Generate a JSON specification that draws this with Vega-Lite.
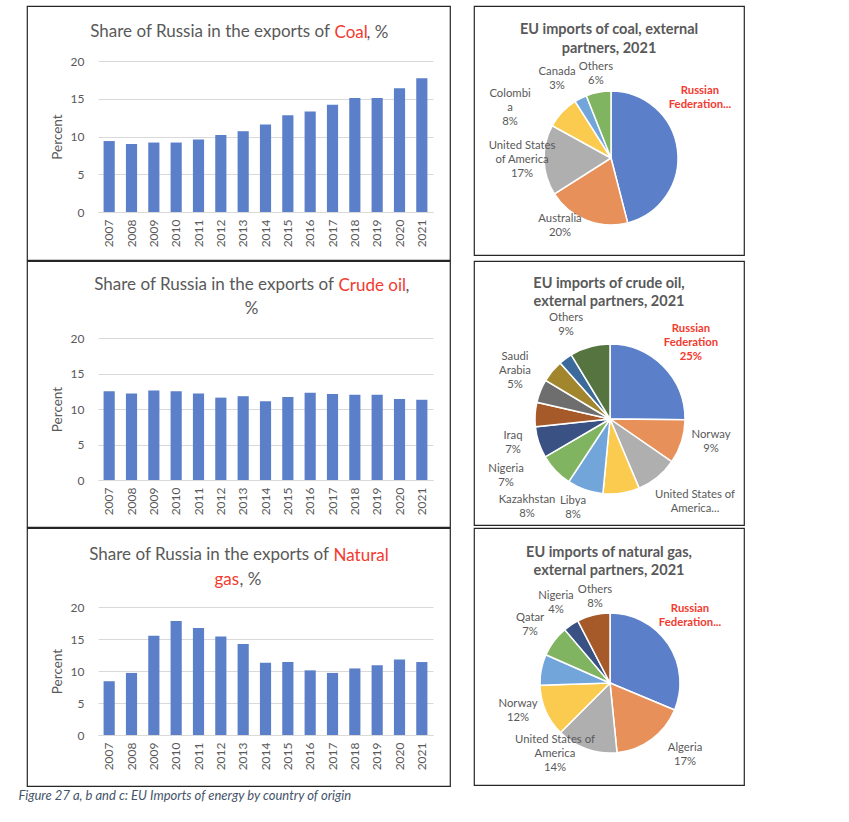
{
  "$schema": "https://vega.github.io/schema/vega-lite/v6.json",
  "background": "white",
  "padding": {"left": 18, "top": 5, "right": 5, "bottom": 5},
  "title": {"text": "Figure 27 a, b and c: EU Imports of energy by country of origin", "orient": "bottom", "anchor": "start", "frame": "bounds", "font": "Lato", "fontSize": 13, "fontStyle": "italic", "fontWeight": "normal", "color": "#44546A", "offset": 3, "baseline": "top", "dx": -8},
  "datasets": {
    "coal": [
      {"year": "2007", "share": 9.4}, {"year": "2008", "share": 9.0}, {"year": "2009", "share": 9.2}, {"year": "2010", "share": 9.2}, {"year": "2011", "share": 9.6},
      {"year": "2012", "share": 10.2}, {"year": "2013", "share": 10.7}, {"year": "2014", "share": 11.6}, {"year": "2015", "share": 12.8}, {"year": "2016", "share": 13.3},
      {"year": "2017", "share": 14.2}, {"year": "2018", "share": 15.1}, {"year": "2019", "share": 15.1}, {"year": "2020", "share": 16.4}, {"year": "2021", "share": 17.7}
    ],
    "crude": [
      {"year": "2007", "share": 12.5}, {"year": "2008", "share": 12.2}, {"year": "2009", "share": 12.6}, {"year": "2010", "share": 12.5}, {"year": "2011", "share": 12.2},
      {"year": "2012", "share": 11.6}, {"year": "2013", "share": 11.8}, {"year": "2014", "share": 11.1}, {"year": "2015", "share": 11.7}, {"year": "2016", "share": 12.3},
      {"year": "2017", "share": 12.1}, {"year": "2018", "share": 12.0}, {"year": "2019", "share": 12.0}, {"year": "2020", "share": 11.4}, {"year": "2021", "share": 11.3}
    ],
    "gas": [
      {"year": "2007", "share": 8.4}, {"year": "2008", "share": 9.7}, {"year": "2009", "share": 15.5}, {"year": "2010", "share": 17.8}, {"year": "2011", "share": 16.7},
      {"year": "2012", "share": 15.4}, {"year": "2013", "share": 14.2}, {"year": "2014", "share": 11.3}, {"year": "2015", "share": 11.4}, {"year": "2016", "share": 10.1},
      {"year": "2017", "share": 9.7}, {"year": "2018", "share": 10.4}, {"year": "2019", "share": 10.9}, {"year": "2020", "share": 11.8}, {"year": "2021", "share": 11.4}
    ],
    "coalPie": [
      {"k": 1, "partner": "Russian Federation", "share": 46, "label": "Russian\nFederation..."},
      {"k": 2, "partner": "Australia", "share": 20, "label": "Australia\n20%"},
      {"k": 3, "partner": "United States of America", "share": 17, "label": "United States\nof America\n17%"},
      {"k": 4, "partner": "Colombia", "share": 8, "label": "Colombi\na\n8%"},
      {"k": 5, "partner": "Canada", "share": 3, "label": "Canada\n3%"},
      {"k": 6, "partner": "Others", "share": 6, "label": "Others\n6%"}
    ],
    "crudePie": [
      {"k": 1, "partner": "Russian Federation", "share": 25, "label": "Russian\nFederation\n25%"},
      {"k": 2, "partner": "Norway", "share": 9.4, "label": "Norway\n9%"},
      {"k": 3, "partner": "United States of America", "share": 9.0, "label": "United States of\nAmerica..."},
      {"k": 4, "partner": "Libya", "share": 7.8, "label": "Libya\n8%"},
      {"k": 5, "partner": "Kazakhstan", "share": 7.7, "label": "Kazakhstan\n8%"},
      {"k": 6, "partner": "Nigeria", "share": 7.3, "label": "Nigeria\n7%"},
      {"k": 7, "partner": "Iraq", "share": 6.7, "label": "Iraq\n7%"},
      {"k": 8, "partner": "Saudi Arabia", "share": 5.2, "label": "Saudi\nArabia\n5%"},
      {"k": 9, "partner": "Unlabelled partner 1", "share": 5.0, "label": ""},
      {"k": 10, "partner": "Unlabelled partner 2", "share": 4.8, "label": ""},
      {"k": 11, "partner": "Unlabelled partner 3", "share": 2.9, "label": ""},
      {"k": 12, "partner": "Others", "share": 8.6, "label": "Others\n9%"}
    ],
    "gasPie": [
      {"k": 1, "partner": "Russian Federation", "share": 31.3, "label": "Russian\nFederation..."},
      {"k": 2, "partner": "Algeria", "share": 17.1, "label": "Algeria\n17%"},
      {"k": 3, "partner": "United States of America", "share": 14.1, "label": "United States of\nAmerica\n14%"},
      {"k": 4, "partner": "Norway", "share": 12.0, "label": "Norway\n12%"},
      {"k": 5, "partner": "Unlabelled partner", "share": 7.1, "label": ""},
      {"k": 6, "partner": "Qatar", "share": 7.2, "label": "Qatar\n7%"},
      {"k": 7, "partner": "Nigeria", "share": 3.6, "label": "Nigeria\n4%"},
      {"k": 8, "partner": "Others", "share": 7.6, "label": "Others\n8%"}
    ]
  },
  "spacing": -3,
  "vconcat": [
    {
      "spacing": 22,
      "hconcat": [
        {
          "width": 423, "height": 254,
          "data": {"name": "coal"},
          "title": {"text": "Share of Russia in the exports of", "frame": "group", "anchor": "middle", "align": "right", "dx": 91.5, "offset": -48, "baseline": "alphabetic", "fontSize": 17, "fontWeight": "normal", "color": "#595959"},
          "layer": [
            {
              "mark": {"type": "bar", "color": "#5B7FC8"},
              "encoding": {
                "x": {"field": "year", "type": "ordinal", "scale": {"range": [71, 406], "paddingInner": 0.5, "paddingOuter": 0.25},
                  "axis": {"orient": "bottom", "offset": -48, "title": null, "labelAngle": -90, "labelPadding": 7, "ticks": false, "tickSize": 0, "domainColor": "#D9D9D9", "grid": false, "labelFontSize": 12}},
                "y": {"field": "share", "type": "quantitative", "scale": {"domain": [0, 20], "range": [206, 55]},
                  "axis": {"orient": "left", "offset": -65, "values": [0, 5, 10, 15, 20], "ticks": false, "tickSize": 0, "domain": false, "labelPadding": 8, "labelFontSize": 12, "gridColor": "#D9D9D9", "title": "Percent", "titleX": -35, "titleY": 130.5, "titleAngle": -90, "titleAlign": "center", "titleBaseline": "middle", "titleFontSize": 13.5, "titleFontWeight": "normal", "titleColor": "#595959"}}
              }
            },
            {
              "mark": {"type": "bar", "opacity": 0},
              "encoding": {
                "x": {"field": "year", "type": "ordinal", "axis": {"orient": "top", "labels": false, "ticks": false, "domain": false, "grid": false, "title": "Coal", "titleX": 307, "titleY": 31, "titleAngle": 0, "titleAlign": "left", "titleBaseline": "alphabetic", "titleColor": "#F23A2F", "titleFontSize": 17, "titleFontWeight": "normal"}},
                "y": {"field": "share", "type": "quantitative", "axis": {"orient": "right", "labels": false, "ticks": false, "domain": false, "grid": false, "title": ", %", "titleX": -84, "titleY": 31, "titleAngle": 0, "titleAlign": "left", "titleBaseline": "alphabetic", "titleColor": "#595959", "titleFontSize": 17, "titleFontWeight": "normal"}}
              }
            }
          ],
          "resolve": {"axis": {"x": "independent", "y": "independent"}}
        },
        {
          "width": 270, "height": 249,
          "view": {"stroke": "#262626", "strokeWidth": 1.2},
          "data": {"name": "coalPie"},
          "title": {"text": ["EU imports of coal, external", "partners, 2021"], "frame": "group", "anchor": "middle", "offset": -61.5, "baseline": "alphabetic", "lineHeight": 19, "fontSize": 14.5, "fontWeight": "bold", "color": "#595959"},
          "encoding": {
            "theta": {"field": "share", "type": "quantitative", "stack": true},
            "order": {"field": "k", "type": "quantitative"},
            "detail": {"field": "k", "type": "ordinal"}
          },
          "layer": [
            {"mark": {"type": "arc", "outerRadius": 67, "stroke": "white", "strokeWidth": 1.5, "xOffset": 2, "yOffset": 27.5},
             "encoding": {"color": {"field": "k", "type": "ordinal", "legend": null, "scale": {"range": ["#5B7FC8", "#E8905A", "#AFAFAF", "#FACB4F", "#72A6DB", "#80B460", "#3A5183", "#A65A2A", "#6E6E6E", "#A2862E", "#3C6A9A", "#55743F"]}}}},
            {"mark": {"type": "text", "clip": true, "radius": 111.3, "thetaOffset": -0.52, "xOffset": 2, "yOffset": 27.5, "fontWeight": "bold", "color": "#F23A2F"},
             "encoding": {"text": {"condition": {"test": "datum.partner !== 'Russian Federation'", "value": ""}, "field": "label", "type": "nominal"}}},
            {"mark": {"type": "text", "clip": true, "radius": 79.5, "thetaOffset": 0.319, "xOffset": 2, "yOffset": 27.5},
             "encoding": {"text": {"condition": {"test": "datum.partner !== 'Australia'", "value": ""}, "field": "label", "type": "nominal"}}},
            {"mark": {"type": "text", "clip": true, "radius": 89.8, "thetaOffset": 0.166, "xOffset": 2, "yOffset": 27.5},
             "encoding": {"text": {"condition": {"test": "datum.partner !== 'United States of America'", "value": ""}, "field": "label", "type": "nominal"}}},
            {"mark": {"type": "text", "clip": true, "radius": 119.6, "thetaOffset": -0.188, "xOffset": 2, "yOffset": 27.5},
             "encoding": {"text": {"condition": {"test": "datum.partner !== 'Colombia'", "value": ""}, "field": "label", "type": "nominal"}}},
            {"mark": {"type": "text", "clip": true, "radius": 101.5, "thetaOffset": -0.089, "xOffset": 2, "yOffset": 27.5},
             "encoding": {"text": {"condition": {"test": "datum.partner !== 'Canada'", "value": ""}, "field": "label", "type": "nominal"}}},
            {"mark": {"type": "text", "clip": true, "radius": 92.2, "thetaOffset": 0.024, "xOffset": 2, "yOffset": 27.5},
             "encoding": {"text": {"condition": {"test": "datum.partner !== 'Others'", "value": ""}, "field": "label", "type": "nominal"}}}
          ]
        }
      ]
    },
    {
      "spacing": 22,
      "hconcat": [
        {
          "width": 423, "height": 266,
          "data": {"name": "crude"},
          "title": {"text": "Share of Russia in the exports of", "frame": "group", "anchor": "middle", "align": "right", "dx": 95.5, "offset": -46, "baseline": "alphabetic", "fontSize": 17, "fontWeight": "normal", "color": "#595959"},
          "layer": [
            {
              "mark": {"type": "bar", "color": "#5B7FC8"},
              "encoding": {
                "x": {"field": "year", "type": "ordinal", "scale": {"range": [71, 406], "paddingInner": 0.5, "paddingOuter": 0.25},
                  "axis": {"orient": "bottom", "offset": -47, "title": "%", "titleX": 224, "titleY": -167, "titleAngle": 0, "titleAlign": "center", "titleBaseline": "alphabetic", "titleColor": "#595959", "titleFontSize": 17, "titleFontWeight": "normal", "labelAngle": -90, "labelPadding": 7, "ticks": false, "tickSize": 0, "domainColor": "#D9D9D9", "grid": false, "labelFontSize": 12}},
                "y": {"field": "share", "type": "quantitative", "scale": {"domain": [0, 20], "range": [219, 77]},
                  "axis": {"orient": "left", "offset": -65, "values": [0, 5, 10, 15, 20], "ticks": false, "tickSize": 0, "domain": false, "labelPadding": 8, "labelFontSize": 12, "gridColor": "#D9D9D9", "title": "Percent", "titleX": -35, "titleY": 148, "titleAngle": -90, "titleAlign": "center", "titleBaseline": "middle", "titleFontSize": 13.5, "titleFontWeight": "normal", "titleColor": "#595959"}}
              }
            },
            {
              "mark": {"type": "bar", "opacity": 0},
              "encoding": {
                "x": {"field": "year", "type": "ordinal", "axis": {"orient": "top", "labels": false, "ticks": false, "domain": false, "grid": false, "title": "Crude oil", "titleX": 311, "titleY": 29, "titleAngle": 0, "titleAlign": "left", "titleBaseline": "alphabetic", "titleColor": "#F23A2F", "titleFontSize": 17, "titleFontWeight": "normal"}},
                "y": {"field": "share", "type": "quantitative", "axis": {"orient": "right", "labels": false, "ticks": false, "domain": false, "grid": false, "title": ",", "titleX": -45, "titleY": 29, "titleAngle": 0, "titleAlign": "left", "titleBaseline": "alphabetic", "titleColor": "#595959", "titleFontSize": 17, "titleFontWeight": "normal"}}
              }
            }
          ],
          "resolve": {"axis": {"x": "independent", "y": "independent"}}
        },
        {
          "width": 270, "height": 264,
          "view": {"stroke": "#262626", "strokeWidth": 1.2},
          "data": {"name": "crudePie"},
          "title": {"text": ["EU imports of crude oil,", "external partners, 2021"], "frame": "group", "anchor": "middle", "offset": -59.5, "baseline": "alphabetic", "lineHeight": 18, "fontSize": 14.5, "fontWeight": "bold", "color": "#595959"},
          "encoding": {
            "theta": {"field": "share", "type": "quantitative", "stack": true},
            "order": {"field": "k", "type": "quantitative"},
            "detail": {"field": "k", "type": "ordinal"}
          },
          "layer": [
            {"mark": {"type": "arc", "outerRadius": 75, "stroke": "white", "strokeWidth": 1.5, "xOffset": 1, "yOffset": 26},
             "encoding": {"color": {"field": "k", "type": "ordinal", "legend": null, "scale": {"range": ["#5B7FC8", "#E8905A", "#AFAFAF", "#FACB4F", "#72A6DB", "#80B460", "#3A5183", "#A65A2A", "#6E6E6E", "#A2862E", "#3C6A9A", "#55743F"]}}}},
            {"mark": {"type": "text", "clip": true, "radius": 121.1, "thetaOffset": -0.058, "xOffset": 1, "yOffset": 26, "fontWeight": "bold", "color": "#F23A2F"},
             "encoding": {"text": {"condition": {"test": "datum.partner !== 'Russian Federation'", "value": ""}, "field": "label", "type": "nominal"}}},
            {"mark": {"type": "text", "clip": true, "radius": 102.3, "thetaOffset": -0.15, "xOffset": 1, "yOffset": 26},
             "encoding": {"text": {"condition": {"test": "datum.partner !== 'Norway'", "value": ""}, "field": "label", "type": "nominal"}}},
            {"mark": {"type": "text", "clip": true, "radius": 114, "thetaOffset": -0.159, "xOffset": 1, "yOffset": 26},
             "encoding": {"text": {"condition": {"test": "datum.partner !== 'United States of America'", "value": ""}, "field": "label", "type": "nominal"}}},
            {"mark": {"type": "text", "clip": true, "radius": 89.9, "thetaOffset": 0.576, "xOffset": 1, "yOffset": 26},
             "encoding": {"text": {"condition": {"test": "datum.partner !== 'Libya'", "value": ""}, "field": "label", "type": "nominal"}}},
            {"mark": {"type": "text", "clip": true, "radius": 116, "thetaOffset": 0.459, "xOffset": 1, "yOffset": 26},
             "encoding": {"text": {"condition": {"test": "datum.partner !== 'Kazakhstan'", "value": ""}, "field": "label", "type": "nominal"}}},
            {"mark": {"type": "text", "clip": true, "radius": 115.4, "thetaOffset": 0.309, "xOffset": 1, "yOffset": 26},
             "encoding": {"text": {"condition": {"test": "datum.partner !== 'Nigeria'", "value": ""}, "field": "label", "type": "nominal"}}},
            {"mark": {"type": "text", "clip": true, "radius": 98.5, "thetaOffset": 0.141, "xOffset": 1, "yOffset": 26},
             "encoding": {"text": {"condition": {"test": "datum.partner !== 'Iraq'", "value": ""}, "field": "label", "type": "nominal"}}},
            {"mark": {"type": "text", "clip": true, "radius": 113.4, "thetaOffset": 0.517, "xOffset": 1, "yOffset": 26},
             "encoding": {"text": {"condition": {"test": "datum.partner !== 'Saudi Arabia'", "value": ""}, "field": "label", "type": "nominal"}}},
            {"mark": {"type": "text", "clip": true, "radius": 110.2, "thetaOffset": -0.138, "xOffset": 1, "yOffset": 26},
             "encoding": {"text": {"condition": {"test": "datum.partner !== 'Others'", "value": ""}, "field": "label", "type": "nominal"}}}
          ]
        }
      ]
    },
    {
      "spacing": 22,
      "hconcat": [
        {
          "width": 423, "height": 258,
          "data": {"name": "gas"},
          "title": {"text": "Share of Russia in the exports of", "frame": "group", "anchor": "middle", "align": "right", "dx": 90.5, "offset": -49, "baseline": "alphabetic", "fontSize": 17, "fontWeight": "normal", "color": "#595959"},
          "layer": [
            {
              "mark": {"type": "bar", "color": "#5B7FC8"},
              "encoding": {
                "x": {"field": "year", "type": "ordinal", "scale": {"range": [71, 406], "paddingInner": 0.5, "paddingOuter": 0.25},
                  "axis": {"orient": "bottom", "offset": -51, "title": "gas", "titleX": 187, "titleY": -151, "titleAngle": 0, "titleAlign": "left", "titleBaseline": "alphabetic", "titleColor": "#F23A2F", "titleFontSize": 17, "titleFontWeight": "normal", "labelAngle": -90, "labelPadding": 7, "ticks": false, "tickSize": 0, "domainColor": "#D9D9D9", "grid": false, "labelFontSize": 12}},
                "y": {"field": "share", "type": "quantitative", "scale": {"domain": [0, 20], "range": [207, 79]},
                  "axis": {"orient": "left", "offset": -65, "values": [0, 5, 10, 15, 20], "ticks": false, "tickSize": 0, "domain": false, "labelPadding": 8, "labelFontSize": 12, "gridColor": "#D9D9D9", "title": "Percent", "titleX": -35, "titleY": 143, "titleAngle": -90, "titleAlign": "center", "titleBaseline": "middle", "titleFontSize": 13.5, "titleFontWeight": "normal", "titleColor": "#595959"}}
              }
            },
            {
              "mark": {"type": "bar", "opacity": 0},
              "encoding": {
                "x": {"field": "year", "type": "ordinal", "axis": {"orient": "top", "labels": false, "ticks": false, "domain": false, "grid": false, "title": "Natural", "titleX": 306, "titleY": 32, "titleAngle": 0, "titleAlign": "left", "titleBaseline": "alphabetic", "titleColor": "#F23A2F", "titleFontSize": 17, "titleFontWeight": "normal"}},
                "y": {"field": "share", "type": "quantitative", "axis": {"orient": "right", "labels": false, "ticks": false, "domain": false, "grid": false, "title": ", %", "titleX": -211, "titleY": 56, "titleAngle": 0, "titleAlign": "left", "titleBaseline": "alphabetic", "titleColor": "#595959", "titleFontSize": 17, "titleFontWeight": "normal"}}
              }
            }
          ],
          "resolve": {"axis": {"x": "independent", "y": "independent"}}
        },
        {
          "width": 270, "height": 257,
          "view": {"stroke": "#262626", "strokeWidth": 1.2},
          "data": {"name": "gasPie"},
          "title": {"text": ["EU imports of natural gas,", "external partners, 2021"], "frame": "group", "anchor": "middle", "offset": -61.5, "baseline": "alphabetic", "lineHeight": 18, "fontSize": 14.5, "fontWeight": "bold", "color": "#595959"},
          "encoding": {
            "theta": {"field": "share", "type": "quantitative", "stack": true},
            "order": {"field": "k", "type": "quantitative"},
            "detail": {"field": "k", "type": "ordinal"}
          },
          "layer": [
            {"mark": {"type": "arc", "outerRadius": 70, "stroke": "white", "strokeWidth": 1.5, "xOffset": 1, "yOffset": 26.5},
             "encoding": {"color": {"field": "k", "type": "ordinal", "legend": null, "scale": {"range": ["#5B7FC8", "#E8905A", "#AFAFAF", "#FACB4F", "#72A6DB", "#80B460", "#3A5183", "#A65A2A", "#6E6E6E", "#A2862E", "#3C6A9A", "#55743F"]}}}},
            {"mark": {"type": "text", "clip": true, "radius": 109, "thetaOffset": -0.159, "xOffset": 1, "yOffset": 26.5, "fontWeight": "bold", "color": "#F23A2F"},
             "encoding": {"text": {"condition": {"test": "datum.partner !== 'Russian Federation'", "value": ""}, "field": "label", "type": "nominal"}}},
            {"mark": {"type": "text", "clip": true, "radius": 99.2, "thetaOffset": -0.22, "xOffset": 1, "yOffset": 26.5},
             "encoding": {"text": {"condition": {"test": "datum.partner !== 'Algeria'", "value": ""}, "field": "label", "type": "nominal"}}},
            {"mark": {"type": "text", "clip": true, "radius": 79.2, "thetaOffset": 0.426, "xOffset": 1, "yOffset": 26.5},
             "encoding": {"text": {"condition": {"test": "datum.partner !== 'United States of America'", "value": ""}, "field": "label", "type": "nominal"}}},
            {"mark": {"type": "text", "clip": true, "radius": 94.4, "thetaOffset": 0.183, "xOffset": 1, "yOffset": 26.5},
             "encoding": {"text": {"condition": {"test": "datum.partner !== 'Norway'", "value": ""}, "field": "label", "type": "nominal"}}},
            {"mark": {"type": "text", "clip": true, "radius": 103, "thetaOffset": 0.042, "xOffset": 1, "yOffset": 26.5},
             "encoding": {"text": {"condition": {"test": "datum.partner !== 'Qatar'", "value": ""}, "field": "label", "type": "nominal"}}},
            {"mark": {"type": "text", "clip": true, "radius": 102.4, "thetaOffset": 0.035, "xOffset": 1, "yOffset": 26.5},
             "encoding": {"text": {"condition": {"test": "datum.partner !== 'Nigeria'", "value": ""}, "field": "label", "type": "nominal"}}},
            {"mark": {"type": "text", "clip": true, "radius": 94.2, "thetaOffset": 0.079, "xOffset": 1, "yOffset": 26.5},
             "encoding": {"text": {"condition": {"test": "datum.partner !== 'Others'", "value": ""}, "field": "label", "type": "nominal"}}}
          ]
        }
      ]
    }
  ],
  "config": {
    "font": "Lato",
    "view": {"stroke": "#262626", "strokeWidth": 1.2},
    "axis": {"labelFont": "Lato", "titleFont": "Lato", "labelColor": "#595959"},
    "title": {"font": "Lato"},
    "text": {"font": "Lato", "fontSize": 11.3, "color": "#595959", "lineBreak": "\n", "lineHeight": 14}
  }
}
